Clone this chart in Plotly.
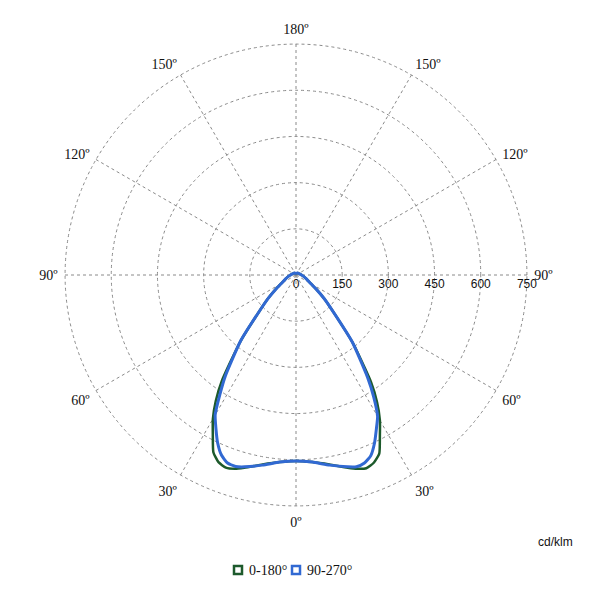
import plotly.graph_objects as go

# Gamma angles (deg) measured from nadir
gamma = [0, 5, 10, 15, 17.5, 20, 22.5, 25, 27.5, 30, 32.5, 35, 40, 45, 50, 55, 60,
         70, 80, 90, 100, 110, 120, 130, 140, 150, 160, 170, 180]

# Luminous intensity, cd/klm
i_c0 = [604, 610, 625, 648, 660, 668, 660, 640, 590, 545, 490, 425, 285, 175, 120, 80, 55,
        35, 25, 18, 14, 12, 10, 9, 8, 7, 6, 6, 6]
i_c180 = [604, 610, 625, 648, 660, 666, 658, 635, 585, 540, 485, 420, 280, 172, 118, 80, 55,
          35, 25, 18, 14, 12, 10, 9, 8, 7, 6, 6, 6]
i_c90 = [604, 610, 627, 645, 653, 650, 635, 603, 565, 530, 470, 405, 285, 175, 120, 80, 55,
         35, 25, 18, 14, 12, 10, 9, 8, 7, 6, 6, 6]
i_c270 = [604, 610, 627, 645, 652, 650, 633, 602, 563, 525, 460, 400, 280, 172, 118, 80, 55,
          35, 25, 18, 14, 12, 10, 9, 8, 7, 6, 6, 6]

series_names = ["0-180°", "90-270°"]
series_colors = ["#1d5a2c", "#3169d2"]

radial_ticks = [0, 150, 300, 450, 600, 750]
radial_max = 760
angle_ticks = [0, 30, 60, 90, 120, 150, 180, 210, 240, 270, 300, 330]
angle_text = ["0º", "30º", "60º", "90º", "120º", "150º", "180º", "150º", "120º", "90º", "60º", "30º"]

W, H = 600, 590
ML, MR, MT, MB = 62, 70, 41, 81
PW, PH = W - ML - MR, H - MT - MB


def px_x(x):
    return (x - ML) / PW


def px_y(y):
    return (H - MB - y) / PH


def full_curve(right, left):
    th = list(gamma) + [360 - g for g in reversed(gamma)]
    r = list(right) + list(reversed(left))
    return r, th


fig = go.Figure()
for (right, left), name, col, w in [((i_c0, i_c180), series_names[0], series_colors[0], 2.5),
                                     ((i_c90, i_c270), series_names[1], series_colors[1], 3)]:
    r, th = full_curve(right, left)
    fig.add_trace(go.Scatterpolar(r=r, theta=th, mode="lines", name=name,
                                  line=dict(color=col, width=w, shape="spline", smoothing=0.5),
                                  showlegend=False, hoverinfo="skip"))

# manual legend (hollow squares + labels)
shapes = []
annotations = []
legend_x = [238, 296]
for xc, name, col in zip(legend_x, series_names, series_colors):
    shapes.append(dict(type="rect", xref="paper", yref="paper",
                       x0=px_x(xc - 4), x1=px_x(xc + 4), y0=px_y(574), y1=px_y(566),
                       line=dict(color=col, width=2.5), fillcolor="white"))
    annotations.append(dict(text=name, x=px_x(xc + 9), y=px_y(570), xref="paper", yref="paper",
                            xanchor="left", yanchor="middle", showarrow=False,
                            font=dict(family="Liberation Serif, Times New Roman", size=14, color="#111")))

annotations.append(dict(text="cd/klm", x=px_x(555), y=px_y(542), xref="paper", yref="paper",
                        xanchor="center", yanchor="middle", showarrow=False,
                        font=dict(family="Liberation Sans, Arial", size=12, color="#111")))

fig.update_layout(
    width=W, height=H,
    margin=dict(l=ML, r=MR, t=MT, b=MB, autoexpand=False),
    paper_bgcolor="white",
    showlegend=False,
    polar=dict(
        bgcolor="white",
        domain=dict(x=[0, 1], y=[0, 1]),
        radialaxis=dict(range=[0, radial_max], tickvals=radial_ticks, ticktext=[str(v) for v in radial_ticks],
                        angle=0, showline=False, ticks="", gridcolor="#8a8a8a", griddash="dot", gridwidth=1,
                        tickfont=dict(family="Liberation Sans, Arial", size=12, color="#111")),
        angularaxis=dict(rotation=270, direction="counterclockwise", tickvals=angle_ticks, ticktext=angle_text,
                         showline=False, ticks="outside", ticklen=1, tickcolor="rgba(0,0,0,0)",
                         gridcolor="#8a8a8a", griddash="dot", gridwidth=1,
                         tickfont=dict(family="Liberation Serif, Times New Roman", size=14, color="#111")),
    ),
    shapes=shapes,
    annotations=annotations,
)

fig.write_html("out.html", post_script="document.body.style.margin='0';",
               config={"displayModeBar": False})
